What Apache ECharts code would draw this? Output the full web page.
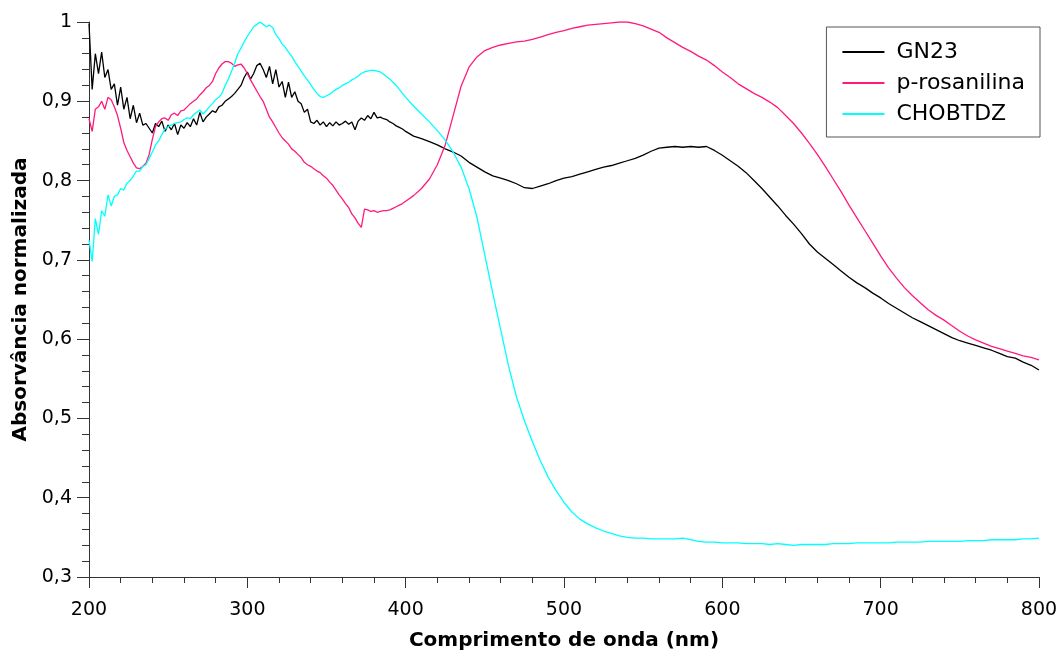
<!DOCTYPE html>
<html>
<head>
<meta charset="utf-8">
<title>Absorvância normalizada</title>
<script src="https://cdn.jsdelivr.net/npm/echarts@6/dist/echarts.min.js"></script>
<style>
  html, body { margin: 0; padding: 0; background: #fff; }
  #chart { width: 1062px; height: 655px; }
</style>
</head>
<body>
<div id="chart"></div>
<script>
// comprimento de onda (nm)
const wavelengths = [
  200, 202, 204, 206, 208, 210, 212, 214, 216, 218, 220, 222, 224, 226, 228, 230, 232, 234, 236, 238,
  240, 242, 244, 246, 248, 250, 252, 254, 256, 258, 260, 262, 264, 266, 268, 270, 272, 274, 276, 278,
  280, 282, 284, 286, 288, 290, 292, 294, 296, 298, 300, 302, 304, 306, 308, 310, 312, 314, 316, 318,
  320, 322, 324, 326, 328, 330, 332, 334, 336, 338, 340, 342, 344, 346, 348, 350, 352, 354, 356, 358,
  360, 362, 364, 366, 368, 370, 372, 374, 376, 378, 380, 382, 384, 386, 388, 390, 392, 394, 396, 398,
  400, 405, 410, 415, 420, 425, 430, 435, 440, 445, 450, 455, 460, 465, 470, 475, 480, 485, 490, 495,
  500, 505, 510, 515, 520, 525, 530, 535, 540, 545, 550, 555, 560, 565, 570, 575, 580, 585, 590, 595,
  600, 605, 610, 615, 620, 625, 630, 635, 640, 645, 650, 655, 660, 665, 670, 675, 680, 685, 690, 695,
  700, 705, 710, 715, 720, 725, 730, 735, 740, 745, 750, 755, 760, 765, 770, 775, 780, 785, 790, 795,
  800
]

const gn23 = [
  0.998, 0.915, 0.96, 0.935, 0.962, 0.93, 0.94, 0.915, 0.922, 0.895, 0.918, 0.89, 0.905, 0.878, 0.895, 0.873, 0.885, 0.87, 0.872, 0.866,
  0.86, 0.872, 0.868, 0.875, 0.862, 0.87, 0.864, 0.872, 0.858, 0.87, 0.866, 0.873, 0.868, 0.878, 0.87, 0.886, 0.874, 0.88, 0.884, 0.888,
  0.886, 0.893, 0.895, 0.9, 0.903, 0.906, 0.91, 0.915, 0.92, 0.93, 0.937, 0.928, 0.935, 0.945, 0.948, 0.94, 0.93, 0.944, 0.922, 0.94,
  0.918, 0.925, 0.905, 0.924, 0.905, 0.912, 0.9, 0.897, 0.886, 0.89, 0.874, 0.872, 0.876, 0.87, 0.874, 0.868, 0.873, 0.869, 0.874, 0.87,
  0.872, 0.875, 0.871, 0.874, 0.864, 0.875, 0.879, 0.876, 0.882, 0.878, 0.886, 0.879, 0.88, 0.878, 0.877, 0.874, 0.872, 0.869, 0.867, 0.865,
  0.862, 0.856, 0.853, 0.849, 0.845, 0.84, 0.836, 0.831, 0.823, 0.817, 0.811, 0.806, 0.803, 0.8, 0.796, 0.791, 0.79, 0.793, 0.796, 0.8,
  0.803, 0.805, 0.808, 0.811, 0.814, 0.817, 0.819, 0.822, 0.825, 0.828, 0.832, 0.837, 0.841, 0.842, 0.843, 0.842, 0.843, 0.842, 0.843, 0.838,
  0.832, 0.825, 0.818, 0.81, 0.8, 0.79, 0.779, 0.768, 0.756, 0.745, 0.733, 0.72, 0.71, 0.702, 0.694, 0.686, 0.678, 0.671, 0.665, 0.658,
  0.652, 0.645, 0.639, 0.633, 0.627, 0.622, 0.617, 0.612, 0.607, 0.602, 0.598, 0.595, 0.592, 0.589, 0.586, 0.582, 0.578, 0.576, 0.571, 0.567,
  0.561
]

const rosanilina = [
  0.878, 0.862, 0.89, 0.893, 0.9, 0.89, 0.905, 0.902, 0.893, 0.882, 0.866, 0.848, 0.838, 0.83, 0.822, 0.816, 0.815, 0.818, 0.822, 0.833,
  0.852, 0.868, 0.874, 0.878, 0.879, 0.876, 0.883, 0.885, 0.882, 0.888, 0.889, 0.893, 0.897, 0.9, 0.903, 0.908, 0.912, 0.917, 0.92, 0.925,
  0.935, 0.942, 0.947, 0.95, 0.95, 0.948, 0.944, 0.946, 0.947, 0.942, 0.935, 0.927, 0.92, 0.913, 0.906, 0.9, 0.89, 0.88, 0.874, 0.867,
  0.86, 0.854, 0.85, 0.846, 0.84, 0.837, 0.833, 0.829, 0.823, 0.82, 0.818, 0.815, 0.812, 0.81, 0.806, 0.803, 0.798, 0.794, 0.788, 0.782,
  0.777, 0.771, 0.766, 0.758, 0.753, 0.746, 0.741, 0.764, 0.763, 0.761, 0.762, 0.76, 0.761, 0.762, 0.762, 0.763, 0.765, 0.767, 0.769, 0.771,
  0.774, 0.781, 0.79, 0.802, 0.82, 0.845, 0.882, 0.919, 0.943, 0.956, 0.964, 0.968, 0.971, 0.973, 0.975, 0.976, 0.978, 0.981, 0.984, 0.987,
  0.989, 0.992, 0.994, 0.996, 0.997, 0.998, 0.999, 1.0, 1.0, 0.998, 0.995, 0.991, 0.987, 0.98, 0.974, 0.968, 0.963, 0.957, 0.952, 0.945,
  0.937, 0.93, 0.922, 0.916, 0.91, 0.905, 0.899, 0.892, 0.882, 0.872, 0.86, 0.847, 0.833, 0.818, 0.802, 0.786, 0.769, 0.753, 0.737, 0.721,
  0.705, 0.69, 0.677, 0.665, 0.655, 0.646, 0.637, 0.63, 0.624, 0.617, 0.61, 0.604, 0.599, 0.595, 0.591, 0.588, 0.585, 0.582, 0.579, 0.577,
  0.574
]

const chobtdz = [
  0.725, 0.698, 0.752, 0.732, 0.762, 0.755, 0.782, 0.768, 0.78, 0.782, 0.79, 0.788, 0.797, 0.8, 0.806, 0.812, 0.812, 0.818, 0.82, 0.828,
  0.836, 0.845, 0.85, 0.858, 0.865, 0.868, 0.87, 0.872, 0.873, 0.874, 0.877, 0.879, 0.878, 0.883, 0.886, 0.889, 0.884, 0.888, 0.893, 0.897,
  0.902, 0.905, 0.91, 0.92, 0.928, 0.938, 0.948, 0.96, 0.967, 0.975, 0.982, 0.988, 0.994, 0.997, 1.0, 0.997, 0.994, 0.996, 0.993, 0.984,
  0.979, 0.972, 0.968, 0.962, 0.957, 0.95, 0.944, 0.938, 0.932, 0.927, 0.921, 0.915, 0.91, 0.906, 0.905, 0.907, 0.909, 0.912, 0.915, 0.917,
  0.92, 0.922, 0.924, 0.927, 0.929, 0.932, 0.935, 0.937, 0.938, 0.939, 0.939, 0.938, 0.937, 0.934, 0.931, 0.928, 0.924, 0.92, 0.915, 0.91,
  0.905, 0.894, 0.884, 0.874, 0.863, 0.851, 0.836, 0.817, 0.79, 0.754, 0.706, 0.658, 0.612, 0.566, 0.527, 0.497, 0.471, 0.447, 0.426, 0.409,
  0.394, 0.382, 0.373, 0.367, 0.362, 0.358, 0.355, 0.352, 0.35, 0.349, 0.349, 0.348, 0.348, 0.348, 0.348, 0.349, 0.347, 0.345, 0.344, 0.344,
  0.343, 0.343, 0.343, 0.342, 0.342, 0.342, 0.341, 0.342, 0.341, 0.34, 0.341, 0.341, 0.341, 0.341, 0.342, 0.342, 0.342, 0.343, 0.343, 0.343,
  0.343, 0.343, 0.344, 0.344, 0.344, 0.344, 0.345, 0.345, 0.345, 0.345, 0.345, 0.346, 0.346, 0.346, 0.347, 0.347, 0.347, 0.347, 0.348, 0.348,
  0.349
]

const seriesNames = ['GN23', 'p-rosanilina', 'CHOBTDZ']
const seriesColors = ['#000000', '#ff1a7c', '#00ffff']

const FONT = 'DejaVu Sans, Verdana, sans-serif'
const AXIS_COLOR = '#333333'

const toPairs = (values) => wavelengths.map((w, i) => [w, values[i]])

const chart = echarts.init(document.getElementById('chart'), null, { renderer: 'canvas' })

const axisCommon = {
  type: 'value',
  nameLocation: 'middle',
  nameTextStyle: { fontFamily: FONT, fontSize: 20, fontWeight: 'bold', color: '#000' },
  axisLine: { show: true, onZero: false, lineStyle: { color: AXIS_COLOR, width: 1 } },
  axisTick: { show: true, inside: false, lineStyle: { color: AXIS_COLOR } },
  minorTick: { show: true, splitNumber: 5, lineStyle: { color: AXIS_COLOR } },
  splitLine: { show: false },
  minorSplitLine: { show: false },
  axisLabel: { fontFamily: FONT, fontSize: 19, color: '#000' },
}

chart.setOption({
  backgroundColor: '#ffffff',
  animation: false,
  // keep the plot box fixed, names/labels sit outside it
  grid: { left: 89, right: 23, top: 22, bottom: 78, containLabel: false, outerBoundsMode: 'none' },
  legend: {
    orient: 'vertical',
    right: 22,
    top: 27,
    // plain line samples, no markers
    data: seriesNames.map((name) => ({ name, icon: 'rect' })),
    padding: [14, 15, 12, 16],
    borderColor: '#555555',
    borderWidth: 1,
    backgroundColor: '#ffffff',
    itemWidth: 42,
    itemHeight: 2,
    itemGap: 9,
    textStyle: { fontFamily: FONT, fontSize: 22, color: '#000', lineHeight: 22, padding: [0, 0, 0, 7] },
  },
  xAxis: {
    ...axisCommon,
    name: 'Comprimento de onda (nm)',
    nameGap: 54,
    min: 200,
    max: 800,
    interval: 100,
    axisTick: { ...axisCommon.axisTick, length: 11 },
    minorTick: { ...axisCommon.minorTick, length: 6 },
    axisLabel: { ...axisCommon.axisLabel, margin: 24 },
  },
  yAxis: {
    ...axisCommon,
    name: 'Absorvância normalizada',
    nameGap: 58,
    min: 0.3,
    max: 1,
    interval: 0.1,
    axisTick: { ...axisCommon.axisTick, length: 12 },
    minorTick: { ...axisCommon.minorTick, length: 7 },
    axisLabel: {
      ...axisCommon.axisLabel,
      margin: 17,
      formatter: (v) => (Math.abs(v - 1) < 1e-9 ? '1' : v.toFixed(1).replace('.', ',')),
    },
  },
  series: [gn23, rosanilina, chobtdz].map((values, i) => ({
    name: seriesNames[i],
    type: 'line',
    data: toPairs(values),
    symbol: 'none',
    showSymbol: false,
    smooth: false,
    color: seriesColors[i],
    lineStyle: { width: 1.3, color: seriesColors[i] },
    emphasis: { disabled: true },
  })),
})
</script>
</body>
</html>
